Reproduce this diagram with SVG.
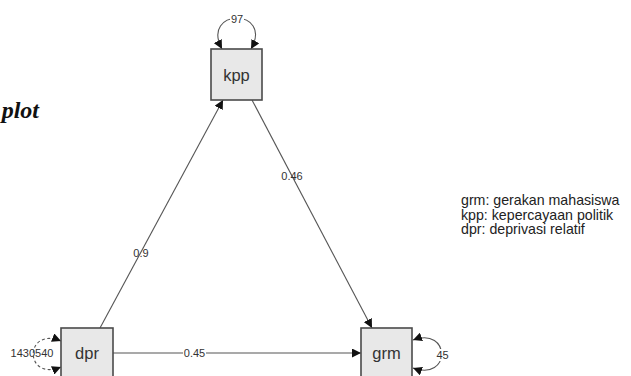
<svg xmlns="http://www.w3.org/2000/svg" width="631" height="376" viewBox="0 0 631 376">
<defs>
<marker id="ah" viewBox="0 0 10 10" refX="10" refY="5" markerWidth="9" markerHeight="9" markerUnits="userSpaceOnUse" orient="auto-start-reverse">
<path d="M0,0 L10,5 L0,10 z" fill="#111"/>
</marker>
<style>
.box{fill:#e8e8e8;stroke:#4a4a4a;stroke-width:1.6}
.nl{font-family:"Liberation Sans",Arial,sans-serif;font-size:16.5px;fill:#333;text-anchor:middle}
.el{font-family:"Liberation Sans",Arial,sans-serif;font-size:11px;fill:#333;text-anchor:middle}
.e{fill:none;stroke:#555;stroke-width:1.1}
.lg{font-family:"Liberation Sans",Arial,sans-serif;font-size:14.2px;fill:#222}
</style>
</defs>
<rect width="631" height="376" fill="#fff"/>
<text x="39" y="118" font-family="'Liberation Serif',serif" font-weight="bold" font-style="italic" font-size="24" text-anchor="end" fill="#111">plot</text>
<g id="connectors">
<path class="e" d="M100,328 L223,100" marker-end="url(#ah)"/>
<path class="e" d="M252,100 L372,328" marker-end="url(#ah)"/>
<path class="e" d="M113,353 L361,353" marker-end="url(#ah)"/>
<path class="e" d="M222,49 C200,8 274,8 251,49" marker-start="url(#ah)" marker-end="url(#ah)"/>
<path class="e" d="M413,340 C451,326 451,382 413,368" marker-start="url(#ah)" marker-end="url(#ah)"/>
<text class="el" x="141" y="257">0.9</text>
<text class="el" x="292" y="180">0.46</text>
<rect x="183" y="346" width="23" height="13" fill="#fff"/>
<text class="el" x="194.5" y="357">0.45</text>
<rect x="230" y="13" width="14" height="12" fill="#fff"/>
<text class="el" x="237" y="23">97</text>
<rect x="436" y="349" width="13" height="12" fill="#fff"/>
<text class="el" x="442.5" y="359">45</text>
<text class="el" x="32" y="357">1430540</text>
<path class="e" d="M61,341 C24,326 24,382 61,367" stroke-dasharray="3,2.5" marker-start="url(#ah)" marker-end="url(#ah)"/>
</g>
<g id="kpp">
<rect class="box" x="211" y="49" width="51" height="51"/>
<text class="nl" x="236.5" y="80.5">kpp</text>
</g>
<g id="dpr">
<rect class="box" x="61" y="328" width="52" height="51"/>
<text class="nl" x="87" y="359">dpr</text>
</g>
<g id="grm">
<rect class="box" x="361" y="328" width="51" height="51"/>
<text class="nl" x="386.5" y="359">grm</text>
</g>
<g id="legend">
<text class="lg" x="461" y="205">grm: gerakan mahasiswa</text>
<text class="lg" x="461" y="219.5">kpp: kepercayaan politik</text>
<text class="lg" x="461" y="234">dpr: deprivasi relatif</text>
</g>
</svg>
